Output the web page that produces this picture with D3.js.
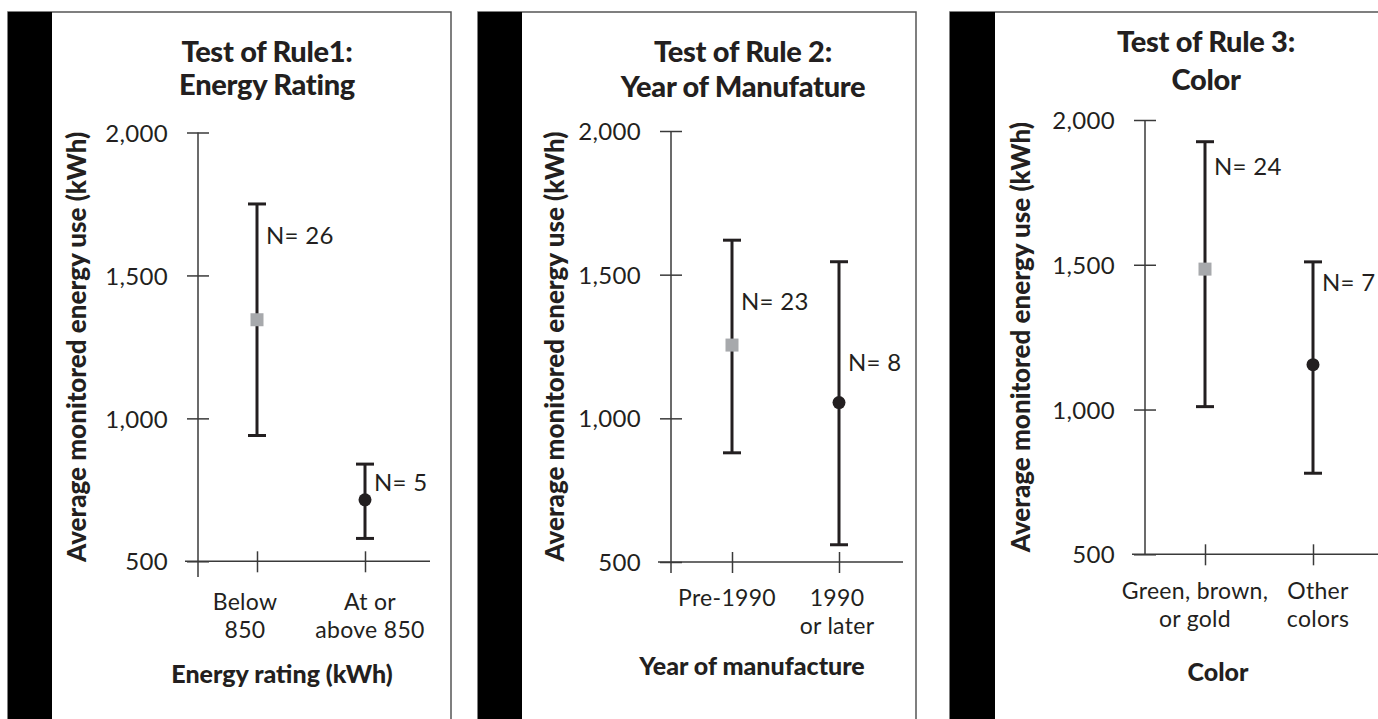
<!DOCTYPE html>
<html>
<head>
<meta charset="utf-8">
<script src="https://cdn.jsdelivr.net/npm/d3@7"></script>
<style>
  body { margin: 0; background: #fff; }
  svg { display: block; }
  .tick text { font-family: Lato, sans-serif; font-size: 24px; fill: #231f20; letter-spacing: 0.3px; }
</style>
</head>
<body>
<svg id="chart" width="1378" height="719"></svg>
<script>
// data
var titles = [["Test of Rule1:", "Energy Rating"], ["Test of Rule 2:", "Year of Manufature"], ["Test of Rule 3:", "Color"]];
var yLabel = "Average monitored energy use (kWh)";
var xTitles = ["Energy rating (kWh)", "Year of manufacture", "Color"];
var categories = [
  [["Below", "850"], ["At or", "above 850"]],
  [["Pre-1990"], ["1990", "or later"]],
  [["Green, brown,", "or gold"], ["Other", "colors"]]
];
var means = [[1345, 715], [1255, 1055], [1485, 1155]];
var lows = [[940, 580], [880, 560], [1010, 780]];
var highs = [[1750, 840], [1620, 1545], [1925, 1510]];
var counts = [[26, 5], [23, 8], [24, 7]];
var yTicks = [500, 1000, 1500, 2000];

// layout of each panel (pixels), n labels anchored in data units
var layout = [
  {left: 8, strip: 44, right: 451, ax: 198, yTop: 132.5, yBot: 561.3, axEnd: 577, xs: [257, 365], xEnd: 430,
   titleX: 267, titleY: 62, titleGap: 33, ylabX: 77, catY: 610, catDx: [-12, 5], xtX: 282, xtY: 683, nAt: [1640, 775]},
  {left: 478, strip: 44, right: 916, ax: 671, yTop: 131, yBot: 562, axEnd: 573, xs: [732, 839], xEnd: 903,
   titleX: 743, titleY: 62, titleGap: 35, ylabX: 555, catY: 606, catDx: [-5, -2], xtX: 752, xtY: 675, nAt: [1406, 1196]},
  {left: 950, strip: 45, right: 1390, ax: 1145, yTop: 120, yBot: 554.3, axEnd: 554.3, xs: [1205, 1313], xEnd: 1378,
   titleX: 1206, titleY: 52, titleGap: 38, ylabX: 1021, catY: 599, catDx: [-10, 5], xtX: 1218, xtY: 681, nAt: [1839, 1438]}
];

var svg = d3.select("#chart");
var ink = "#231f20", axisInk = "#3a3a3a";

layout.forEach(function(L, p) {
  var g = svg.append("g");

  // frame
  g.append("rect").attr("x", L.left).attr("y", 12).attr("width", L.right - L.left).attr("height", 720)
    .attr("fill", "#fff").attr("stroke", "#555").attr("stroke-width", 1.5);
  g.append("rect").attr("x", L.left).attr("y", 12).attr("width", L.strip).attr("height", 710).attr("fill", "#000");

  var y = d3.scaleLinear().domain([500, 2000]).range([L.yBot, L.yTop]);
  var x = d3.scalePoint().domain([0, 1]).range(L.xs);

  // y axis
  g.append("line").attr("x1", L.ax).attr("x2", L.ax).attr("y1", L.yTop).attr("y2", L.axEnd)
    .attr("stroke", axisInk).attr("stroke-width", 1.5);
  var ya = g.append("g").attr("transform", "translate(" + L.ax + ",0)")
    .call(d3.axisLeft(y).tickValues(yTicks).tickFormat(d3.format(",")));
  ya.select(".domain").remove();
  ya.selectAll(".tick line").attr("x1", 11).attr("x2", -11).attr("stroke", axisInk).attr("stroke-width", 1.5);
  ya.selectAll(".tick text").attr("x", -30).attr("dy", "0.36em");

  // x axis
  g.append("line").attr("x1", L.ax - 13).attr("x2", L.xEnd).attr("y1", L.yBot).attr("y2", L.yBot)
    .attr("stroke", axisInk).attr("stroke-width", 1.5);
  var xa = g.append("g").attr("transform", "translate(0," + L.yBot + ")")
    .call(d3.axisBottom(x).tickFormat(""));
  xa.select(".domain").remove();
  xa.selectAll(".tick line").attr("y1", -10).attr("y2", 11).attr("stroke", axisInk).attr("stroke-width", 1.5);

  // category labels
  categories[p].forEach(function(lines, i) {
    var t = g.append("text").attr("text-anchor", "middle")
      .attr("font-family", "Lato, sans-serif").attr("font-size", 23).attr("letter-spacing", 0.3).attr("fill", ink);
    lines.forEach(function(s, k) {
      t.append("tspan").attr("x", x(i) + L.catDx[i]).attr("y", L.catY + k * 28).text(s);
    });
  });

  // error bars
  var rows = means[p].map(function(m, i) { return {i: i, m: m, lo: lows[p][i], hi: highs[p][i], n: counts[p][i]}; });
  var bars = g.selectAll(".bar").data(rows).enter().append("g");
  bars.append("line").attr("x1", function(d) { return x(d.i); }).attr("x2", function(d) { return x(d.i); })
    .attr("y1", function(d) { return y(d.lo); }).attr("y2", function(d) { return y(d.hi); })
    .attr("stroke", ink).attr("stroke-width", 3);
  ["lo", "hi"].forEach(function(k) {
    bars.append("line").attr("x1", function(d) { return x(d.i) - 9; }).attr("x2", function(d) { return x(d.i) + 9; })
      .attr("y1", function(d) { return y(d[k]); }).attr("y2", function(d) { return y(d[k]); })
      .attr("stroke", ink).attr("stroke-width", 3);
  });
  bars.filter(function(d) { return d.i === 0; }).append("rect")
    .attr("x", function(d) { return x(d.i) - 6.5; }).attr("y", function(d) { return y(d.m) - 6.5; })
    .attr("width", 13).attr("height", 13).attr("fill", "#a7a9ac");
  bars.filter(function(d) { return d.i === 1; }).append("circle")
    .attr("cx", function(d) { return x(d.i); }).attr("cy", function(d) { return y(d.m); })
    .attr("r", 6.5).attr("fill", ink);
  bars.append("text").attr("x", function(d) { return x(d.i) + 9; })
    .attr("y", function(d) { return y(L.nAt[d.i]); }).attr("dy", "0.36em")
    .attr("font-family", "Lato, sans-serif").attr("font-size", 24).attr("letter-spacing", 0.3).attr("fill", ink)
    .text(function(d) { return "N= " + d.n; });

  // titles
  var tt = g.append("text").attr("text-anchor", "middle").attr("font-family", "Lato, sans-serif")
    .attr("font-weight", 900).attr("font-size", 29).attr("letter-spacing", -0.3).attr("fill", ink);
  titles[p].forEach(function(s, k) {
    tt.append("tspan").attr("x", L.titleX).attr("y", L.titleY + k * L.titleGap).text(s);
  });
  g.append("text").attr("transform", "translate(" + L.ylabX + "," + (L.yTop + L.yBot) / 2 + ") rotate(-90)")
    .attr("text-anchor", "middle").attr("dy", "0.36em").attr("font-family", "Lato, sans-serif")
    .attr("font-weight", 900).attr("font-size", 26).attr("fill", ink).text(yLabel);
  g.append("text").attr("x", L.xtX).attr("y", L.xtY).attr("text-anchor", "middle")
    .attr("font-family", "Lato, sans-serif").attr("font-weight", 900).attr("font-size", 25)
    .attr("fill", ink).text(xTitles[p]);
});
</script>
</body>
</html>
